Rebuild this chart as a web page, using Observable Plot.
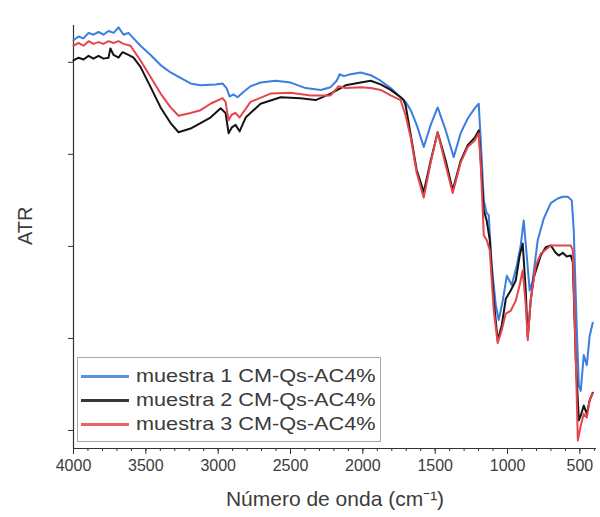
<!DOCTYPE html>
<html>
<head>
<meta charset="utf-8">
<script src="https://cdn.jsdelivr.net/npm/d3@7"></script>
<script src="https://cdn.jsdelivr.net/npm/@observablehq/plot@0.6"></script>
<style>
  body { margin: 0; background: #fff; }
  #wrap { position: relative; width: 600px; height: 517px; font-family: "Liberation Sans", Arial, sans-serif; }
  #legend { position: absolute; left: 77px; top: 357px; width: 304px; height: 85px; border: 1px solid #a8a8a8; box-sizing: border-box; background: #fff; }
  .row { position: absolute; left: 0; height: 24px; display: flex; align-items: center; }
  .sw { width: 48px; height: 3px; margin-left: 3px; margin-right: 7px; }
  .lab { font-size: 19px; color: #3a3a3a; transform: scaleX(1.14); transform-origin: left center; white-space: nowrap; }
</style>
</head>
<body>
<div id="wrap"></div>
<script>
// Series names and colours
const seriesNames = ["muestra 1 CM-Qs-AC4%", "muestra 2 CM-Qs-AC4%", "muestra 3 CM-Qs-AC4%"];
const seriesColors = ["#3b7de0", "#141414", "#e5464d"];

// muestra 1 (blue)
const wn1 = [4000,3965,3931,3896,3862,3827,3793,3758,3723,3689,3654,3620,3585,3537,3467,3398,3329,3260,3191,3122,3018,2970,2942,2921,2893,2866,2824,2776,2707,2603,2499,2396,2292,2223,2181,2160,2133,2084,2015,1946,1877,1808,1752,1704,1669,1628,1579,1531,1483,1427,1372,1324,1275,1227,1199,1185,1164,1144,1130,1109,1081,1061,1033,1005,971,936,909,888,867,847,826,791,750,701,653,618,584,556,542,521,507,494,473,452,432,411];
const atr1 = [4.24,4.28,4.26,4.32,4.30,4.33,4.30,4.34,4.32,4.38,4.30,4.32,4.26,4.18,4.08,3.97,3.89,3.83,3.77,3.75,3.76,3.77,3.72,3.63,3.65,3.62,3.68,3.74,3.78,3.80,3.78,3.72,3.70,3.73,3.80,3.87,3.85,3.87,3.89,3.86,3.80,3.72,3.64,3.57,3.48,3.32,3.08,3.32,3.51,3.26,2.97,3.23,3.39,3.50,3.55,3.15,2.50,2.36,2.34,1.79,1.36,1.20,1.41,1.68,1.58,1.79,2.01,2.28,1.90,1.52,1.63,2.07,2.30,2.47,2.52,2.54,2.54,2.50,2.17,1.09,0.49,0.43,0.82,0.71,1.03,1.17];

// muestra 2 (black)
const wn2 = [4000,3965,3931,3896,3862,3827,3793,3758,3745,3723,3689,3661,3620,3585,3537,3467,3398,3329,3274,3191,3122,3053,2983,2949,2928,2907,2880,2852,2810,2707,2568,2430,2326,2223,2119,2015,1946,1877,1808,1739,1718,1704,1669,1628,1579,1531,1483,1427,1379,1324,1275,1227,1199,1185,1164,1144,1123,1095,1068,1040,1012,978,943,916,895,874,860,840,819,771,736,701,667,646,618,591,563,549,528,507,494,473,452,432,411];
const atr2 = [4.02,4.05,4.03,4.07,4.04,4.07,4.04,4.05,4.15,4.08,4.05,4.11,4.08,4.05,3.95,3.73,3.51,3.34,3.24,3.28,3.34,3.40,3.50,3.45,3.23,3.29,3.32,3.25,3.40,3.55,3.62,3.61,3.59,3.66,3.75,3.78,3.80,3.76,3.70,3.62,3.59,3.53,3.21,2.83,2.59,2.93,3.24,2.93,2.61,2.93,3.10,3.18,3.26,2.93,2.39,2.28,2.07,1.41,0.98,1.14,1.43,1.52,1.63,1.90,2.03,1.52,1.01,1.41,1.66,1.90,1.99,2.01,1.93,1.90,1.93,1.89,1.90,1.83,0.76,0.11,0.16,0.27,0.18,0.33,0.41];

// muestra 3 (red)
const wn3 = [4000,3965,3931,3896,3862,3827,3793,3758,3723,3689,3654,3606,3537,3467,3398,3329,3274,3191,3122,3053,2970,2949,2928,2907,2880,2852,2776,2638,2499,2361,2223,2167,2119,2015,1946,1877,1808,1739,1704,1669,1628,1579,1531,1483,1427,1379,1324,1275,1227,1199,1185,1164,1144,1123,1095,1068,1040,1012,978,943,916,895,874,860,840,805,771,701,632,563,549,528,514,494,473,452,432,411];
const atr3 = [4.18,4.21,4.18,4.23,4.20,4.22,4.20,4.23,4.21,4.23,4.20,4.18,4.02,3.84,3.66,3.51,3.42,3.45,3.48,3.55,3.61,3.57,3.37,3.43,3.45,3.40,3.57,3.66,3.67,3.64,3.64,3.74,3.72,3.73,3.72,3.70,3.64,3.59,3.42,3.18,2.80,2.53,2.91,3.24,2.88,2.58,2.91,3.08,3.15,3.23,2.88,2.12,2.07,1.96,1.30,0.95,1.09,1.27,1.30,1.41,1.58,1.74,1.36,0.98,1.41,1.79,1.92,2.01,2.01,2.01,1.96,0.76,-0.11,0.05,0.18,0.14,0.33,0.40];

// Axis ticks
const xMajorTicks = [4000,3500,3000,2500,2000,1500,1000,500];
const xMinorTicks = d3.range(400, 4001, 100);
const yTicks = [0,1,2,3,4];

const xDomain = [4000, 385];
const yDomain = [-0.196, 4.40];

const toRows = (wn, v, name) => wn.map((w, i) => ({wn: w, atr: v[i], serie: name}));
const data = [
  ...toRows(wn1, atr1, seriesNames[0]),
  ...toRows(wn2, atr2, seriesNames[1]),
  ...toRows(wn3, atr3, seriesNames[2])
];

const textColor = "#3c3c3c";

const chart = Plot.plot({
  width: 600,
  height: 517,
  marginLeft: 73,
  marginRight: 4,
  marginTop: 25,
  marginBottom: 69,
  style: {fontFamily: "Liberation Sans, Arial, sans-serif", color: textColor, background: "#fff"},
  x: {domain: xDomain, type: "linear"},
  y: {domain: yDomain},
  color: {domain: seriesNames, range: seriesColors},
  marks: [
    Plot.axisX({ticks: xMinorTicks, tickSize: 3, tickFormat: () => "", label: null, stroke: "#333"}),
    Plot.axisX({ticks: xMajorTicks, tickSize: 6, tickPadding: 5, tickFormat: d => String(d), label: null, fontSize: 16, stroke: "#333"}),
    Plot.axisY({ticks: yTicks, tickSize: 5, tickFormat: () => "", label: null, stroke: "#333"}),
    Plot.ruleX([xDomain[0]], {stroke: "#333", strokeWidth: 1.2}),
    Plot.ruleY([yDomain[0]], {stroke: "#333", strokeWidth: 1.2}),
    Plot.line(data, {x: "wn", y: "atr", z: "serie", stroke: "serie", strokeWidth: 2, strokeLinejoin: "round"}),
    Plot.text(["Número de onda (cm⁻¹)"], {frameAnchor: "bottom", dy: 57, fontSize: 21, fill: textColor}),
    Plot.text(["ATR"], {frameAnchor: "left", dx: -48, dy: 8, rotate: -90, fontSize: 20, fill: textColor})
  ]
});

const wrap = document.getElementById("wrap");
wrap.appendChild(chart);

const legend = document.createElement("div");
legend.id = "legend";
seriesNames.forEach((name, i) => {
  const row = document.createElement("div");
  row.className = "row";
  row.style.top = (6 + i * 24) + "px";
  const sw = document.createElement("div");
  sw.className = "sw";
  sw.style.background = seriesColors[i];
  sw.style.opacity = "0.85";
  const lab = document.createElement("span");
  lab.className = "lab";
  lab.textContent = name;
  row.appendChild(sw);
  row.appendChild(lab);
  legend.appendChild(row);
});
wrap.appendChild(legend);
</script>
</body>
</html>
